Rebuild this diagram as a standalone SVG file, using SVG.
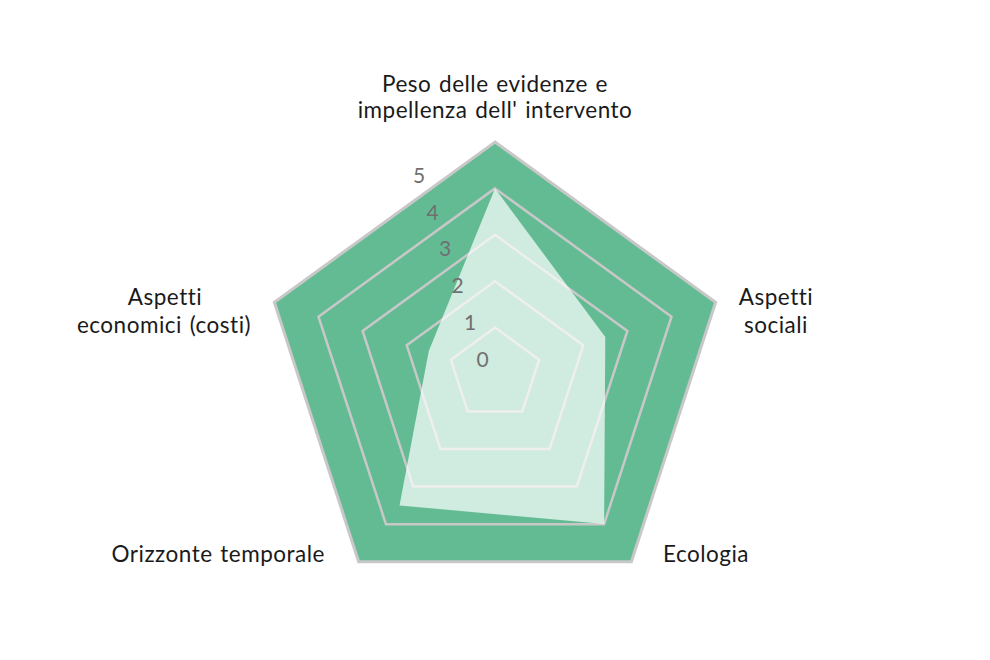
<svg xmlns="http://www.w3.org/2000/svg" width="990" height="660" viewBox="0 0 990 660">
<style>
.ring{fill:none;stroke:#c8c8c8;stroke-width:2.5;stroke-linejoin:miter}
.lbl{font-family:Lato,"Liberation Sans",sans-serif;font-size:22.5px;letter-spacing:0.5px;word-spacing:1.5px;font-variant-ligatures:none;fill:#1a1a1a;text-anchor:middle}
.num{font-family:Lato,"Liberation Sans",sans-serif;font-size:21px;fill:#707070;text-anchor:middle}
</style>
<rect width="990" height="660" fill="#ffffff"/>
<g id="grid">
<polygon points="495,142 715.65,302.31 631.37,561.69 358.63,561.69 274.35,302.31" fill="#63bb93" stroke="#c8c8c8" stroke-width="3"/>
<polygon class="ring" points="495,188.4 671.52,316.65 604.09,524.15 385.91,524.15 318.48,316.65"/>
<polygon class="ring" points="495,234.8 627.39,330.98 576.82,486.62 413.18,486.62 362.61,330.98"/>
<polygon class="ring" points="495,281.2 583.26,345.32 549.55,449.08 440.45,449.08 406.74,345.32"/>
<polygon class="ring" points="495,327.6 539.13,359.66 522.27,411.54 467.73,411.54 450.87,359.66"/>
</g>
<g id="data">
<polygon points="495,188.4 605.3,337 604.1,524.1 399.5,505.4 428.8,351" fill="#ffffff" fill-opacity="0.7"/>
</g>
<g id="scale">
<text class="num" x="419" y="183">5</text>
<text class="num" x="432.5" y="220">4</text>
<text class="num" x="445" y="256">3</text>
<text class="num" x="457.5" y="293">2</text>
<text class="num" x="470" y="330">1</text>
<text class="num" x="482.5" y="367">0</text>
</g>
<g id="axis-top">
<text class="lbl" x="495" y="92">Peso delle evidenze e</text>
<text class="lbl" x="495" y="118">impellenza dell' intervento</text>
</g>
<g id="axis-right">
<text class="lbl" x="776" y="305">Aspetti</text>
<text class="lbl" x="776" y="333">sociali</text>
</g>
<g id="axis-bottom-right">
<text class="lbl" x="663" y="562" style="text-anchor:start">Ecologia</text>
</g>
<g id="axis-bottom-left">
<text class="lbl" x="325" y="562" style="text-anchor:end">Orizzonte temporale</text>
</g>
<g id="axis-left">
<text class="lbl" x="165" y="305">Aspetti</text>
<text class="lbl" x="164" y="333">economici (costi)</text>
</g>
</svg>
